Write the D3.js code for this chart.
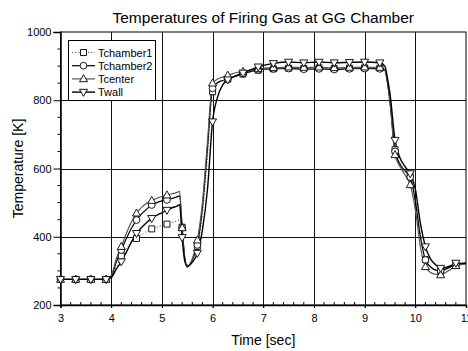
<!DOCTYPE html>
<html>
<head>
<meta charset="utf-8">
<script src="https://cdn.jsdelivr.net/npm/d3@7"></script>
<style>
  html, body { margin: 0; padding: 0; background: #fff; }
  svg { display: block; font-family: Arial, "Liberation Sans", sans-serif; }
</style>
</head>
<body>
<svg id="chart" width="468" height="351"></svg>
<script>
// Sample times (s)
const time = [
  3.0, 3.1, 3.2, 3.3, 3.4, 3.5, 3.6, 3.7, 3.8, 3.9, 4.0,
  4.1, 4.2, 4.3, 4.4, 4.5, 4.6, 4.7, 4.8, 4.9, 5.0, 5.1, 5.2, 5.3,
  5.35, 5.4, 5.45, 5.5, 5.6,
  5.7, 5.8, 5.9, 6.0, 6.1, 6.2, 6.3, 6.4, 6.5, 6.6, 6.7, 6.8, 6.9, 7.0,
  7.2, 7.5, 7.8, 8.1, 8.4, 8.7, 9.0, 9.3,
  9.4, 9.45, 9.5, 9.6, 9.7, 9.8, 9.9, 10.0, 10.1, 10.2, 10.3, 10.4, 10.5, 10.6, 10.7, 10.8, 10.9, 11.0
];

// Temperatures (K)
const tChamber1 = [
  275, 275, 275, 275, 275, 275, 275, 275, 275, 275, 280,
  310, 344, 365, 383, 395, 406, 416, 423, 428, 433, 437, 442, 447,
  450, 428, 345, 318, 335,
  372, 468, 635, 825, 848, 857, 862, 867, 872, 877, 881, 885, 888, 890,
  892, 894, 893, 895, 893, 894, 895, 894,
  885, 850, 790, 655, 615, 595, 576, 515, 405, 333, 312, 303, 300, 305, 312, 318, 320, 322
];
const tChamber2 = [
  275, 275, 275, 275, 275, 275, 275, 275, 275, 275, 284,
  325, 361, 395, 425, 449, 467, 481, 493, 500, 505, 508, 512, 517,
  520, 426, 340, 312, 332,
  376, 485, 660, 835, 852, 858, 862, 868, 873, 878, 882, 886, 889, 891,
  892, 893, 891, 892, 890, 892, 893, 892,
  888, 852, 795, 650, 612, 592, 575, 505, 400, 332, 312, 302, 300, 305, 312, 318, 320, 322
];
const tCenter = [
  275, 275, 275, 275, 275, 275, 275, 275, 275, 275, 286,
  335, 371, 410, 443, 469, 486, 498, 506, 513, 518, 522, 526, 530,
  533, 426, 338, 311, 335,
  390, 500, 680, 850, 862, 868, 873, 878, 882, 884, 887, 890, 892, 894,
  895, 897, 896, 897, 895, 896, 897, 896,
  890, 855, 800, 640, 605, 580, 552, 480, 370, 312, 295, 290, 288, 295, 305, 315, 318, 320
];
const tWall = [
  275, 275, 275, 275, 275, 275, 275, 275, 275, 275, 280,
  305, 327, 355, 385, 410, 427, 442, 454, 463, 470, 478, 485, 490,
  494, 398, 330, 314, 325,
  352, 420, 540, 737, 810, 845, 860, 868, 874, 880, 886, 892, 898, 902,
  908, 912, 910, 912, 910, 911, 912, 910,
  900, 865, 820, 683, 630, 605, 585, 540, 440, 371, 335, 318, 308, 310, 315, 323, 322, 323
];

const seriesNames = ["Tchamber1", "Tchamber2", "Tcenter", "Twall"];
const xTicks = [3, 4, 5, 6, 7, 8, 9, 10, 11];
const yTicks = [200, 400, 600, 800, 1000];

const series = [
  { name: seriesNames[0], values: tChamber1, symbol: d3.symbolSquare, color: "#555", dash: "1.2,2", width: 1 },
  { name: seriesNames[1], values: tChamber2, symbol: d3.symbolCircle, color: "#000", dash: null, width: 1.2 },
  { name: seriesNames[2], values: tCenter, symbol: "triUp", color: "#555", dash: null, width: 1.2 },
  { name: seriesNames[3], values: tWall, symbol: "triDown", color: "#000", dash: null, width: 1.4 }
];

const svg = d3.select("#chart");
const L = 60.5, R = 466, T = 32, B = 305;

const x = d3.scaleLinear().domain([3, 11]).range([L, R]);
const y = d3.scaleLinear().domain([200, 1000]).range([B, T]);

// Title
svg.append("text")
  .attr("x", (L + R) / 2).attr("y", 23)
  .attr("text-anchor", "middle")
  .attr("font-size", 15.5)
  .text("Temperatures of Firing Gas at GG Chamber");

// Grid lines
const grid = svg.append("g");
grid.selectAll(".gx").data(xTicks.slice(1, -1)).join("line")
  .attr("x1", d => Math.round(x(d)) + 0.5).attr("x2", d => Math.round(x(d)) + 0.5)
  .attr("y1", T).attr("y2", B + 3)
  .attr("stroke", "#111").attr("stroke-width", 1);
grid.selectAll(".gy").data(yTicks.slice(1, -1)).join("line")
  .attr("y1", d => Math.round(y(d)) + 0.5).attr("y2", d => Math.round(y(d)) + 0.5)
  .attr("x1", L).attr("x2", R)
  .attr("stroke", "#111").attr("stroke-width", 1);

// Frame
svg.append("rect")
  .attr("x", L).attr("y", T).attr("width", R - L).attr("height", B - T)
  .attr("fill", "none").attr("stroke", "#000").attr("stroke-width", 1);

// X axis: major ticks outward, minor ticks inward
const xAxis = d3.axisBottom(x).tickValues(xTicks).tickSize(3).tickPadding(6).tickFormat(d3.format("d"));
const gx = svg.append("g").attr("transform", `translate(0,${B})`).call(xAxis);
gx.select(".domain").attr("stroke-width", 1.5);
gx.selectAll("text").attr("font-size", 11).attr("fill", "#000").attr("font-family", "Arial, 'Liberation Sans', sans-serif");
const xMinor = d3.range(3, 11.001, 0.2).filter(v => Math.abs(v - Math.round(v)) > 1e-6);
svg.append("g").selectAll("line").data(xMinor).join("line")
  .attr("x1", d => x(d)).attr("x2", d => x(d))
  .attr("y1", B).attr("y2", B - 3)
  .attr("stroke", "#000");

// Y axis: major and minor ticks outward
const yAxis = d3.axisLeft(y).tickValues(yTicks).tickSize(7).tickPadding(2).tickFormat(d3.format("d"));
const gy = svg.append("g").attr("transform", `translate(${L},0)`).call(yAxis);
gy.select(".domain").attr("stroke-width", 1.5);
gy.selectAll("text").attr("font-size", 11).attr("fill", "#000").attr("font-family", "Arial, 'Liberation Sans', sans-serif");
const yMinor = d3.range(200, 1000.001, 50).filter(v => v % 200 !== 0);
svg.append("g").selectAll("line").data(yMinor).join("line")
  .attr("x1", L - 3).attr("x2", L)
  .attr("y1", d => y(d)).attr("y2", d => y(d))
  .attr("stroke", "#000");

// Axis titles
svg.append("text")
  .attr("x", (L + R) / 2).attr("y", 345)
  .attr("text-anchor", "middle").attr("font-size", 14)
  .text("Time [sec]");
svg.append("text")
  .attr("transform", `translate(23,${(T + B) / 2}) rotate(-90)`)
  .attr("text-anchor", "middle").attr("font-size", 14)
  .text("Temperature [K]");

// Marker shapes
function markerPath(sym) {
  if (sym === "triUp") return "M0,-4.2L4,2.8L-4,2.8Z";
  if (sym === "triDown") return "M0,4.2L4,-2.8L-4,-2.8Z";
  if (sym === d3.symbolSquare) return "M-3,-3H3V3H-3Z";
  return d3.symbol().type(sym).size(36)();
}

const isMarker = t => Math.abs((t - 3) / 0.3 - Math.round((t - 3) / 0.3)) < 1e-6;

const line = d3.line()
  .x(d => x(d.t)).y(d => y(d.v))
  .curve(d3.curveMonotoneX);

const plot = svg.append("g");
series.forEach(s => {
  const pts = time.map((t, i) => ({ t, v: s.values[i] }));
  plot.append("path")
    .datum(pts)
    .attr("d", line)
    .attr("fill", "none")
    .attr("stroke", s.color)
    .attr("stroke-width", s.width)
    .attr("stroke-dasharray", s.dash);
});
series.forEach(s => {
  const pts = time.map((t, i) => ({ t, v: s.values[i] })).filter(p => isMarker(p.t));
  plot.append("g").selectAll("path").data(pts).join("path")
    .attr("transform", d => `translate(${x(d.t)},${y(d.v)})`)
    .attr("d", markerPath(s.symbol))
    .attr("fill", "#fff")
    .attr("stroke", "#000")
    .attr("stroke-width", 0.9);
});

// Legend
const lg = svg.append("g");
lg.append("rect")
  .attr("x", 68.5).attr("y", 40.5).attr("width", 87).attr("height", 60)
  .attr("fill", "#fff").attr("stroke", "#000").attr("stroke-width", 1);
series.forEach((s, i) => {
  const yy = 52.5 + i * 13.2;
  lg.append("line")
    .attr("x1", 72).attr("x2", 95).attr("y1", yy).attr("y2", yy)
    .attr("stroke", s.color).attr("stroke-width", s.width)
    .attr("stroke-dasharray", s.dash);
  lg.append("path")
    .attr("transform", `translate(83.5,${yy})`)
    .attr("d", markerPath(s.symbol))
    .attr("fill", "#fff").attr("stroke", "#000").attr("stroke-width", 0.9);
  lg.append("text")
    .attr("x", 98).attr("y", yy + 4)
    .attr("font-size", 11)
    .text(s.name);
});
</script>
</body>
</html>
